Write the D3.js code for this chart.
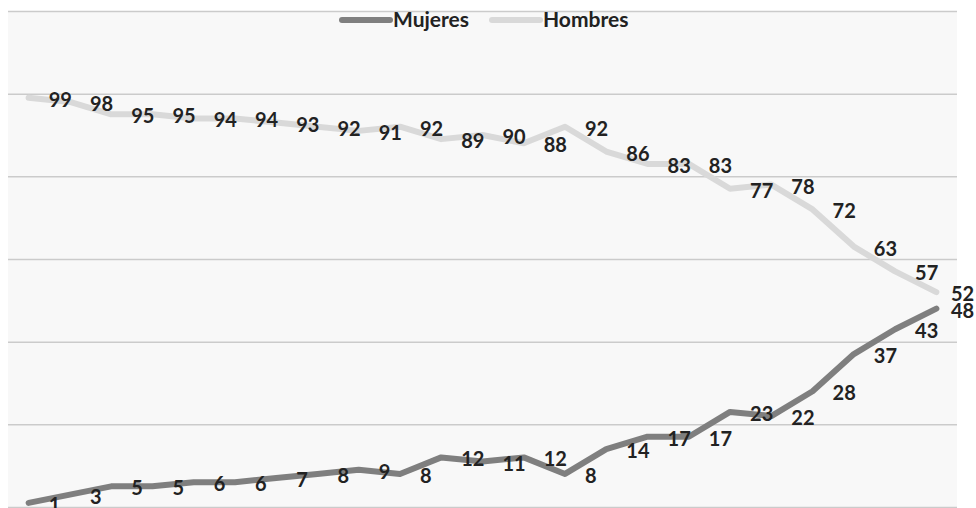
<!DOCTYPE html>
<html>
<head>
<meta charset="utf-8">
<script src="https://cdn.jsdelivr.net/npm/d3@7"></script>
<style>
  html, body { margin: 0; padding: 0; background: #ffffff; }
  svg { display: block; }
</style>
</head>
<body>
<svg id="chart" width="976" height="508"></svg>
<script>
const seriesNames = ["Mujeres", "Hombres"];
const mujeres = [1, 3, 5, 5, 6, 6, 7, 8, 9, 8, 12, 11, 12, 8, 14, 17, 17, 23, 22, 28, 37, 43, 48];
const hombres = [99, 98, 95, 95, 94, 94, 93, 92, 91, 92, 89, 90, 88, 92, 86, 83, 83, 77, 78, 72, 63, 57, 52];
const yTicks = [0, 20, 40, 60, 80, 100, 120];

const W = 976, H = 508;
const plot = { left: 8, right: 957, top: 11, bottom: 507 };
const colors = { Mujeres: "#7f7f7f", Hombres: "#d9d9d9" };
const textColor = "#222222";
const font = "Lato, 'Open Sans', sans-serif";

const svg = d3.select("#chart");

const idx = d3.range(mujeres.length);
const x = d3.scalePoint().domain(idx).range([plot.left, plot.right]).padding(0.5);
const y = d3.scaleLinear().domain([0, 120]).range([plot.bottom, plot.top]);

// plot background
svg.append("rect")
  .attr("x", plot.left).attr("y", plot.top)
  .attr("width", plot.right - plot.left).attr("height", plot.bottom - plot.top)
  .attr("fill", "#f8f8f8");

// gridlines via axis
const grid = svg.append("g")
  .attr("transform", `translate(${plot.left},0)`)
  .call(d3.axisLeft(y).tickValues(yTicks).tickSize(-(plot.right - plot.left)).tickFormat(""));
grid.select(".domain").remove();
grid.selectAll(".tick line").attr("stroke", "#cbcbcb").attr("stroke-width", 1.5);

const line = d3.line().x((d, i) => x(i)).y(d => y(d));

const data = [
  { name: "Hombres", values: hombres },
  { name: "Mujeres", values: mujeres }
];

data.forEach(s => {
  svg.append("path")
    .datum(s.values)
    .attr("d", line)
    .attr("fill", "none")
    .attr("stroke", colors[s.name])
    .attr("stroke-width", 6)
    .attr("stroke-linejoin", "round")
    .attr("stroke-linecap", "round");
});

// data labels (right of point)
data.forEach(s => {
  svg.append("g").selectAll("text")
    .data(s.values)
    .join("text")
    .attr("x", (d, i) => Math.min(x(i) + 20, W - 25))
    .attr("y", d => y(d) + 2)
    .attr("dy", "0.35em")
    .attr("font-family", font)
    .attr("font-weight", 700)
    .attr("font-size", 20)
    .attr("fill", textColor)
    .text(d => d);
});

// legend
const legend = svg.append("g");
const legendItems = [
  { name: "Mujeres", x: 342 },
  { name: "Hombres", x: 492 }
];
legendItems.forEach(it => {
  legend.append("line")
    .attr("x1", it.x).attr("x2", it.x + 48)
    .attr("y1", 20).attr("y2", 20)
    .attr("stroke", colors[it.name])
    .attr("stroke-width", 6)
    .attr("stroke-linecap", "round");
  legend.append("text")
    .attr("x", it.x + 51).attr("y", 20)
    .attr("dy", "0.35em")
    .attr("font-family", font)
    .attr("font-weight", 700)
    .attr("font-size", 21)
    .attr("fill", textColor)
    .text(it.name);
});
</script>
</body>
</html>
